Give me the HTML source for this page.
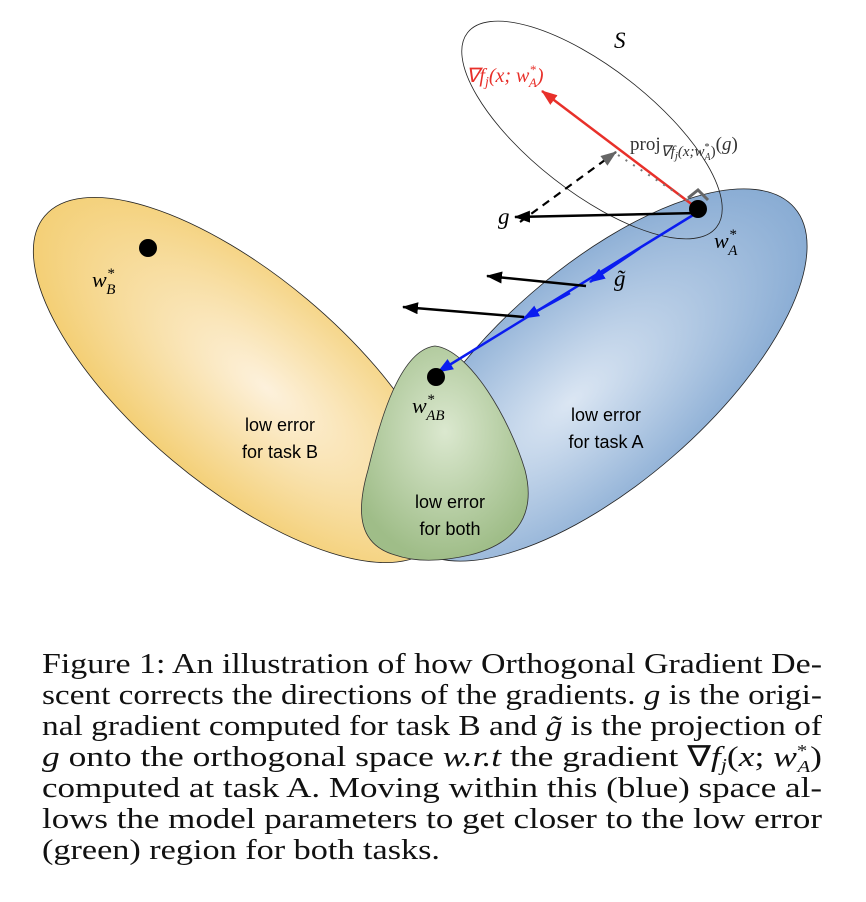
<!DOCTYPE html>
<html><head><meta charset="utf-8"><style>
body{margin:0;background:#fff;width:866px;height:902px;overflow:hidden;position:relative}
svg{position:absolute;left:0;top:0}
</style></head><body>
<svg width="866" height="902">
<defs>
<radialGradient id="gy" cx="0.55" cy="0.45" r="0.6"><stop offset="0" stop-color="#fdf1dc"/><stop offset="1" stop-color="#f3cd6f"/></radialGradient>
<radialGradient id="gb" cx="0.42" cy="0.5" r="0.65"><stop offset="0" stop-color="#dbe6f3"/><stop offset="1" stop-color="#7fa5d0"/></radialGradient>
<radialGradient id="gg" cx="0.5" cy="0.4" r="0.6"><stop offset="0" stop-color="#dbe8cf"/><stop offset="1" stop-color="#9fbd88"/></radialGradient>
<marker id="ar" markerWidth="16" markerHeight="12" refX="15" refY="6" orient="auto" markerUnits="userSpaceOnUse"><path d="M0,0L16,6L0,12z" fill="#e8302a"/></marker>
<marker id="ab" markerWidth="16" markerHeight="12" refX="15" refY="6" orient="auto" markerUnits="userSpaceOnUse"><path d="M0,0L16,6L0,12z" fill="#0a1cf0"/></marker>
<marker id="akb" markerWidth="16" markerHeight="12" refX="15" refY="6" orient="auto" markerUnits="userSpaceOnUse"><path d="M0,0L16,6L0,12z" fill="#000"/></marker>
<marker id="ag" markerWidth="16" markerHeight="12" refX="15" refY="6" orient="auto" markerUnits="userSpaceOnUse"><path d="M0,0L16,6L0,12z" fill="#666"/></marker>
</defs>
<ellipse cx="240" cy="380" rx="255" ry="105" transform="rotate(40 240 380)" fill="url(#gy)" stroke="#222" stroke-width="0.8"/>
<ellipse cx="602" cy="375" rx="255" ry="108" transform="rotate(-41 602 375)" fill="url(#gb)" stroke="#222" stroke-width="0.8"/>
<path d="M435,346 C470,350 510,420 525,470 C538,520 510,545 470,555 C440,562 415,562 395,555 C360,545 355,515 368,470 C380,420 400,350 435,346Z" fill="url(#gg)" stroke="#333" stroke-width="0.8"/>
<ellipse cx="592" cy="130" rx="158" ry="62" transform="rotate(38 592 130)" fill="none" stroke="#222" stroke-width="0.8"/>
<text x="614" y="48" font-family="Liberation Serif,serif" font-style="italic" font-size="23">S</text>
<line x1="698" y1="209" x2="542" y2="91" stroke="#e8302a" stroke-width="2.5" marker-end="url(#ar)"/>
<text x="466" y="82" fill="#e8302a" font-family="Liberation Serif,serif" font-style="italic" font-size="20">∇f<tspan font-size="14" dy="4">j</tspan><tspan dy="-4">(x; w</tspan><tspan font-size="13" dy="-8">*</tspan><tspan font-size="13" dy="13" dx="-7">A</tspan><tspan dy="-5">)</tspan></text>
<line x1="520" y1="222" x2="616" y2="152" stroke="#000" stroke-width="2.2" stroke-dasharray="8,6" marker-end="url(#ag)"/>
<line x1="618" y1="155" x2="695" y2="205" stroke="#777" stroke-width="2" stroke-dasharray="2,7"/>
<path d="M688,198 L698,190 L708,200" fill="none" stroke="#666" stroke-width="3"/>
<text x="630" y="150" fill="#333" font-family="Liberation Serif,serif" font-size="19">proj<tspan font-style="italic" font-size="15" dy="6">∇f</tspan><tspan font-style="italic" font-size="11" dy="3">j</tspan><tspan font-style="italic" font-size="15" dy="-3">(x;w</tspan><tspan font-size="10" dy="-6">*</tspan><tspan font-size="10" dy="10" dx="-5" font-style="italic">A</tspan><tspan font-size="15" dy="-4">)</tspan><tspan dy="-6">(</tspan><tspan font-style="italic">g</tspan>)</text>
<line x1="698" y1="213" x2="515" y2="217" stroke="#000" stroke-width="2.5" marker-end="url(#akb)"/>
<text x="498" y="224" font-family="Liberation Serif,serif" font-style="italic" font-size="23">g</text>
<line x1="698" y1="212" x2="438" y2="372" stroke="#0a1cf0" stroke-width="2.5" marker-end="url(#ab)"/>
<line x1="640" y1="248" x2="590" y2="282" stroke="#0a1cf0" stroke-width="2.5" marker-end="url(#ab)"/>
<line x1="570" y1="293" x2="524" y2="318" stroke="#0a1cf0" stroke-width="2.5" marker-end="url(#ab)"/>
<line x1="586" y1="286" x2="487" y2="276" stroke="#000" stroke-width="2.5" marker-end="url(#akb)"/>
<line x1="524" y1="317" x2="403" y2="307" stroke="#000" stroke-width="2.5" marker-end="url(#akb)"/>
<text x="614" y="286" font-family="Liberation Serif,serif" font-style="italic" font-size="23">g̃</text>
<circle cx="698" cy="209" r="9" fill="#000"/>
<circle cx="148" cy="248" r="9" fill="#000"/>
<circle cx="436" cy="377" r="9" fill="#000"/>
<text x="714" y="248" font-family="Liberation Serif,serif" font-style="italic" font-size="22">w<tspan font-size="15" dy="-9">*</tspan><tspan font-size="15" dy="16" dx="-8">A</tspan></text>
<text x="92" y="287" font-family="Liberation Serif,serif" font-style="italic" font-size="22">w<tspan font-size="15" dy="-9">*</tspan><tspan font-size="15" dy="16" dx="-8">B</tspan></text>
<text x="412" y="413" font-family="Liberation Serif,serif" font-style="italic" font-size="22">w<tspan font-size="15" dy="-9">*</tspan><tspan font-size="15" dy="16" dx="-8">AB</tspan></text>
<g font-family="Liberation Sans,sans-serif" font-size="18" text-anchor="middle">
<text x="280" y="431">low error</text><text x="280" y="458">for task B</text>
<text x="606" y="421">low error</text><text x="606" y="448">for task A</text>
<text x="450" y="508">low error</text><text x="450" y="535">for both</text>
</g>
<g font-family="Liberation Serif,serif" font-size="29" fill="#111">
<text x="42" y="673" textLength="780" lengthAdjust="spacingAndGlyphs">Figure 1: An illustration of how Orthogonal Gradient De-</text>
<text x="42" y="704" textLength="780" lengthAdjust="spacingAndGlyphs">scent corrects the directions of the gradients. <tspan font-style="italic">g</tspan> is the origi-</text>
<text x="42" y="735" textLength="780" lengthAdjust="spacingAndGlyphs">nal gradient computed for task B and <tspan font-style="italic">g̃</tspan> is the projection of</text>
<text x="42" y="766" textLength="780" lengthAdjust="spacingAndGlyphs"><tspan font-style="italic">g</tspan> onto the orthogonal space <tspan font-style="italic">w.r.t</tspan> the gradient ∇<tspan font-style="italic">f</tspan><tspan font-size="18" dy="5" font-style="italic">j</tspan><tspan dy="-5">(</tspan><tspan font-style="italic">x</tspan>; <tspan font-style="italic">w</tspan><tspan font-size="17" dy="-10">*</tspan><tspan font-size="17" dy="16" dx="-8" font-style="italic">A</tspan><tspan dy="-6">)</tspan></text>
<text x="42" y="797" textLength="780" lengthAdjust="spacingAndGlyphs">computed at task A. Moving within this (blue) space al-</text>
<text x="42" y="828" textLength="780" lengthAdjust="spacingAndGlyphs">lows the model parameters to get closer to the low error</text>
<text x="42" y="859" textLength="398" lengthAdjust="spacingAndGlyphs">(green) region for both tasks.</text>
</g>
</svg>
</body></html>
